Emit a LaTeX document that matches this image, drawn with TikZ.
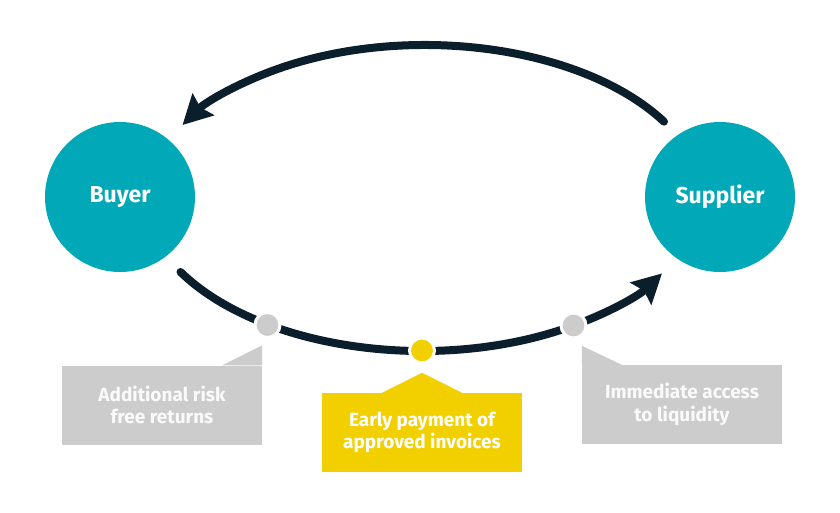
\documentclass[tikz,border=0pt]{standalone}
\usepackage{fontspec}
\setmainfont{Fira Sans}
\usetikzlibrary{arrows.meta}
\definecolor{cteal}{HTML}{00A8B8}
\definecolor{cnavy}{HTML}{0B1E2B}
\definecolor{cgrey}{HTML}{CCCCCC}
\definecolor{cyellow}{HTML}{F2D000}
\definecolor{cgtext}{HTML}{FAFAFA}
\begin{document}
\begin{tikzpicture}[x=1pt,y=-1pt,
  party/.style={circle, fill=cteal, minimum size=150pt, inner sep=0pt, text=white,
    font=\bfseries\fontsize{23}{27}\selectfont},
  flow/.style={draw=cnavy, line width=8pt, line cap=round,
    -{Stealth[length=29pt,width=30pt,inset=4pt]}},
  dotg/.style={circle, fill=cgrey, draw=white, line width=3pt, minimum size=25pt, inner sep=0pt},
  doty/.style={dotg, fill=cyellow},
  greybox/.style={rectangle, fill=cgrey, minimum width=200pt, minimum height=79pt,
    inner sep=0pt, text=cgtext, align=center, font=\bfseries\fontsize{19}{22.5}\selectfont},
  yellowbox/.style={greybox, fill=cyellow, text=white},
]
\fill[white] (0,0) rectangle (840,513);
\useasboundingbox (0,0) rectangle (840,513);

% parties
\node[party] (buyer) at (120,197) {Buyer};
\node[party] (supplier) at (720,197) {Supplier};

% arcs
\coordinate (ts) at ({425+280*cos(31.4)}, {205-160*sin(31.4)});
\draw[flow] (ts) arc[start angle=31.4, end angle=150, x radius=280pt, y radius=160pt];
\coordinate (bs) at ({422+280*cos(210.4)}, {191-160*sin(210.4)});
\draw[flow] (bs) arc[start angle=210.4, end angle=329, x radius=280pt, y radius=160pt];

% dots on the lower arc
\node[dotg] (d1) at (267.5,325) {};
\node[doty] (d2) at (422,350.5) {};
\node[dotg] (d3) at (573.5,325.5) {};

% boxes
\node[greybox] (b1) at (162,405) {Additional risk\\free returns};
\node[yellowbox] (b2) at (422,432.5) {Early payment of\\approved invoices};
\node[greybox] (b3) at (682,404.5) {Immediate access\\to liquidity};

% tabs pointing to dots
\fill[cgrey] ([xshift=-40pt]b1.north east) -- ([yshift=20pt]b1.north east) -- (b1.north east) -- cycle;
\fill[cyellow] ([xshift=-40pt]b2.north) -- ([yshift=20pt]b2.north) -- ([xshift=40pt]b2.north) -- cycle;
\fill[cgrey] (b3.north west) -- ([yshift=19pt]b3.north west) -- ([xshift=40pt]b3.north west) -- cycle;
\end{tikzpicture}
\end{document}
